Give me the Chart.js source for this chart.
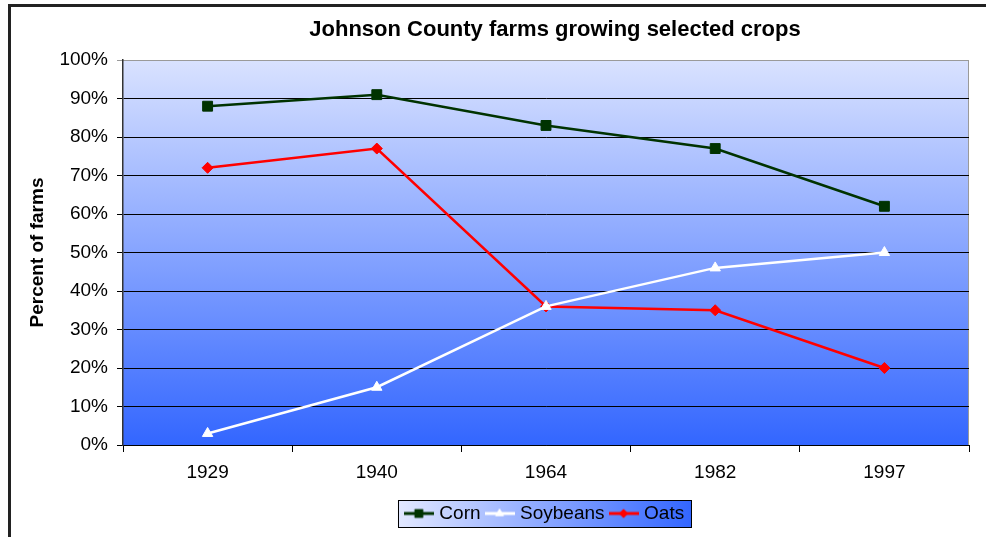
<!DOCTYPE html>
<html>
<head>
<meta charset="utf-8">
<title>Johnson County farms growing selected crops</title>
<script src="https://cdn.jsdelivr.net/npm/chart.js@4/dist/chart.umd.min.js"></script>
<style>
  html, body { margin: 0; padding: 0; background: #ffffff; }
  #wrap { width: 986px; height: 537px; }
</style>
</head>
<body>
<div id="wrap"><canvas id="chart" width="986" height="537"></canvas></div>
<script>
// Survey years and share of farms growing each crop (percent)
const years = ['1929', '1940', '1964', '1982', '1997'];
const corn = [88, 91, 83, 77, 62];
const soybeans = [3, 15, 36, 46, 50];
const oats = [72, 77, 36, 35, 20];

const FONT = 'Liberation Sans, Arial, Helvetica, sans-serif';

// Small "line through marker" swatch used as the legend symbol
function swatch(color, style, r) {
  const c = document.createElement('canvas');
  c.width = 30; c.height = 14;
  const g = c.getContext('2d');
  g.strokeStyle = color; g.lineWidth = 3;
  g.beginPath(); g.moveTo(0, 7); g.lineTo(30, 7); g.stroke();
  g.fillStyle = color;
  Chart.helpers.drawPoint(g, { pointStyle: style, radius: r, borderWidth: 0 }, 15, 7);
  g.fill();
  return c;
}

const series = [
  { label: 'Corn', data: corn, color: '#003300', style: 'rect', radius: 7 },
  { label: 'Soybeans', data: soybeans, color: '#ffffff', style: 'triangle', radius: 6 },
  { label: 'Oats', data: oats, color: '#ff0000', style: 'rectRot', radius: 5.5 }
];

// Plot backdrop, outer frame and legend panel
const backdrop = {
  id: 'backdrop',
  afterLayout(chart) {
    const t = chart.titleBlock;
    if (t) { t.left += 9; t.right += 9; }
  },
  beforeDraw(chart) {
    const { ctx, chartArea: a } = chart;
    ctx.save();
    ctx.fillStyle = '#ffffff';
    ctx.fillRect(0, 0, chart.width, chart.height);

    ctx.strokeStyle = '#222222';
    ctx.lineWidth = 3;
    ctx.strokeRect(9.5, 5.5, chart.width + 40, chart.height + 40);

    const g = ctx.createLinearGradient(0, a.top, 0, a.bottom);
    g.addColorStop(0, '#d9e2ff');
    g.addColorStop(1, '#3366ff');
    ctx.fillStyle = g;
    ctx.fillRect(a.left, a.top, a.right - a.left, a.bottom - a.top);

    ctx.strokeStyle = '#9a9a9a';
    ctx.lineWidth = 1;
    ctx.beginPath();
    ctx.moveTo(a.left, a.top + 0.5);
    ctx.lineTo(a.right - 0.5, a.top + 0.5);
    ctx.lineTo(a.right - 0.5, a.bottom);
    ctx.stroke();

    const lg = chart.legend;
    if (lg && lg.legendHitBoxes && lg.legendHitBoxes.length) {
      const hb = lg.legendHitBoxes;
      const left = Math.min(...hb.map(h => h.left)) - 10;
      const right = Math.max(...hb.map(h => h.left + h.width)) + 7;
      const cy = hb[0].top + hb[0].height / 2;
      const top = cy - 13.5, bottom = cy + 13.5;
      const lgGrad = ctx.createLinearGradient(left, 0, right, 0);
      lgGrad.addColorStop(0, '#e2e8ff');
      lgGrad.addColorStop(1, '#3366ff');
      ctx.fillStyle = lgGrad;
      ctx.fillRect(left, top, right - left, bottom - top);
      ctx.strokeStyle = '#000000';
      ctx.lineWidth = 1;
      ctx.strokeRect(Math.round(left) + 0.5, Math.round(top) + 0.5, Math.round(right - left), Math.round(bottom - top));
    }
    ctx.restore();
  }
};

new Chart(document.getElementById('chart'), {
  type: 'line',
  data: {
    labels: years,
    datasets: series.map(s => ({
      label: s.label,
      data: s.data,
      borderColor: s.color,
      backgroundColor: s.color,
      borderWidth: 2.5,
      tension: 0,
      fill: false,
      pointStyle: s.style,
      pointRadius: s.radius,
      pointHoverRadius: s.radius,
      pointBackgroundColor: s.color,
      pointBorderColor: s.color,
      pointBorderWidth: 1
    }))
  },
  options: {
    responsive: false,
    animation: false,
    devicePixelRatio: 1,
    layout: { padding: { left: 0, right: 17, top: 0, bottom: 4 } },
    plugins: {
      title: {
        display: true,
        text: 'Johnson County farms growing selected crops',
        color: '#000000',
        fullSize: false,
        font: { family: FONT, size: 22, weight: 'bold' },
        padding: { top: 17, bottom: 16.6 }
      },
      legend: {
        display: true,
        position: 'bottom',
        fullSize: false,
        labels: {
          color: '#000000',
          font: { family: FONT, size: 19 },
          usePointStyle: true,
          pointStyleWidth: 22,
          padding: 8,
          generateLabels(chart) {
            return series.map((s, i) => ({
              text: s.label,
              fillStyle: s.color,
              strokeStyle: s.color,
              lineWidth: 0,
              pointStyle: swatch(s.color, s.style, s.radius - 1),
              hidden: false,
              datasetIndex: i,
              fontColor: '#000000'
            }));
          }
        }
      },
      tooltip: { enabled: false }
    },
    scales: {
      x: {
        type: 'category',
        offset: true,
        afterFit(scale) { scale.height = 51; },
        grid: {
          offset: true,
          drawOnChartArea: false,
          drawTicks: true,
          tickLength: 7,
          color: '#000000',
          lineWidth: 1
        },
        border: { display: true, color: '#000000', width: 1 },
        ticks: {
          color: '#000000',
          font: { family: FONT, size: 19 },
          padding: 9,
          maxRotation: 0
        }
      },
      y: {
        min: 0,
        max: 100,
        afterFit(scale) { scale.width = 123; },
        grid: {
          color: ctx => (ctx.tick && ctx.tick.value === 100) ? '#9a9a9a' : '#000000',
          lineWidth: 1,
          tickLength: 6,
          drawTicks: true
        },
        border: { display: true, color: '#333333', width: 1.5 },
        ticks: {
          stepSize: 10,
          color: '#000000',
          font: { family: FONT, size: 19 },
          padding: 9,
          callback: v => v + '%'
        },
        title: {
          display: true,
          text: 'Percent of farms',
          color: '#000000',
          font: { family: FONT, size: 19, weight: 'bold' },
          padding: { top: 26, bottom: 0 }
        }
      }
    }
  },
  plugins: [backdrop]
});
</script>
</body>
</html>
